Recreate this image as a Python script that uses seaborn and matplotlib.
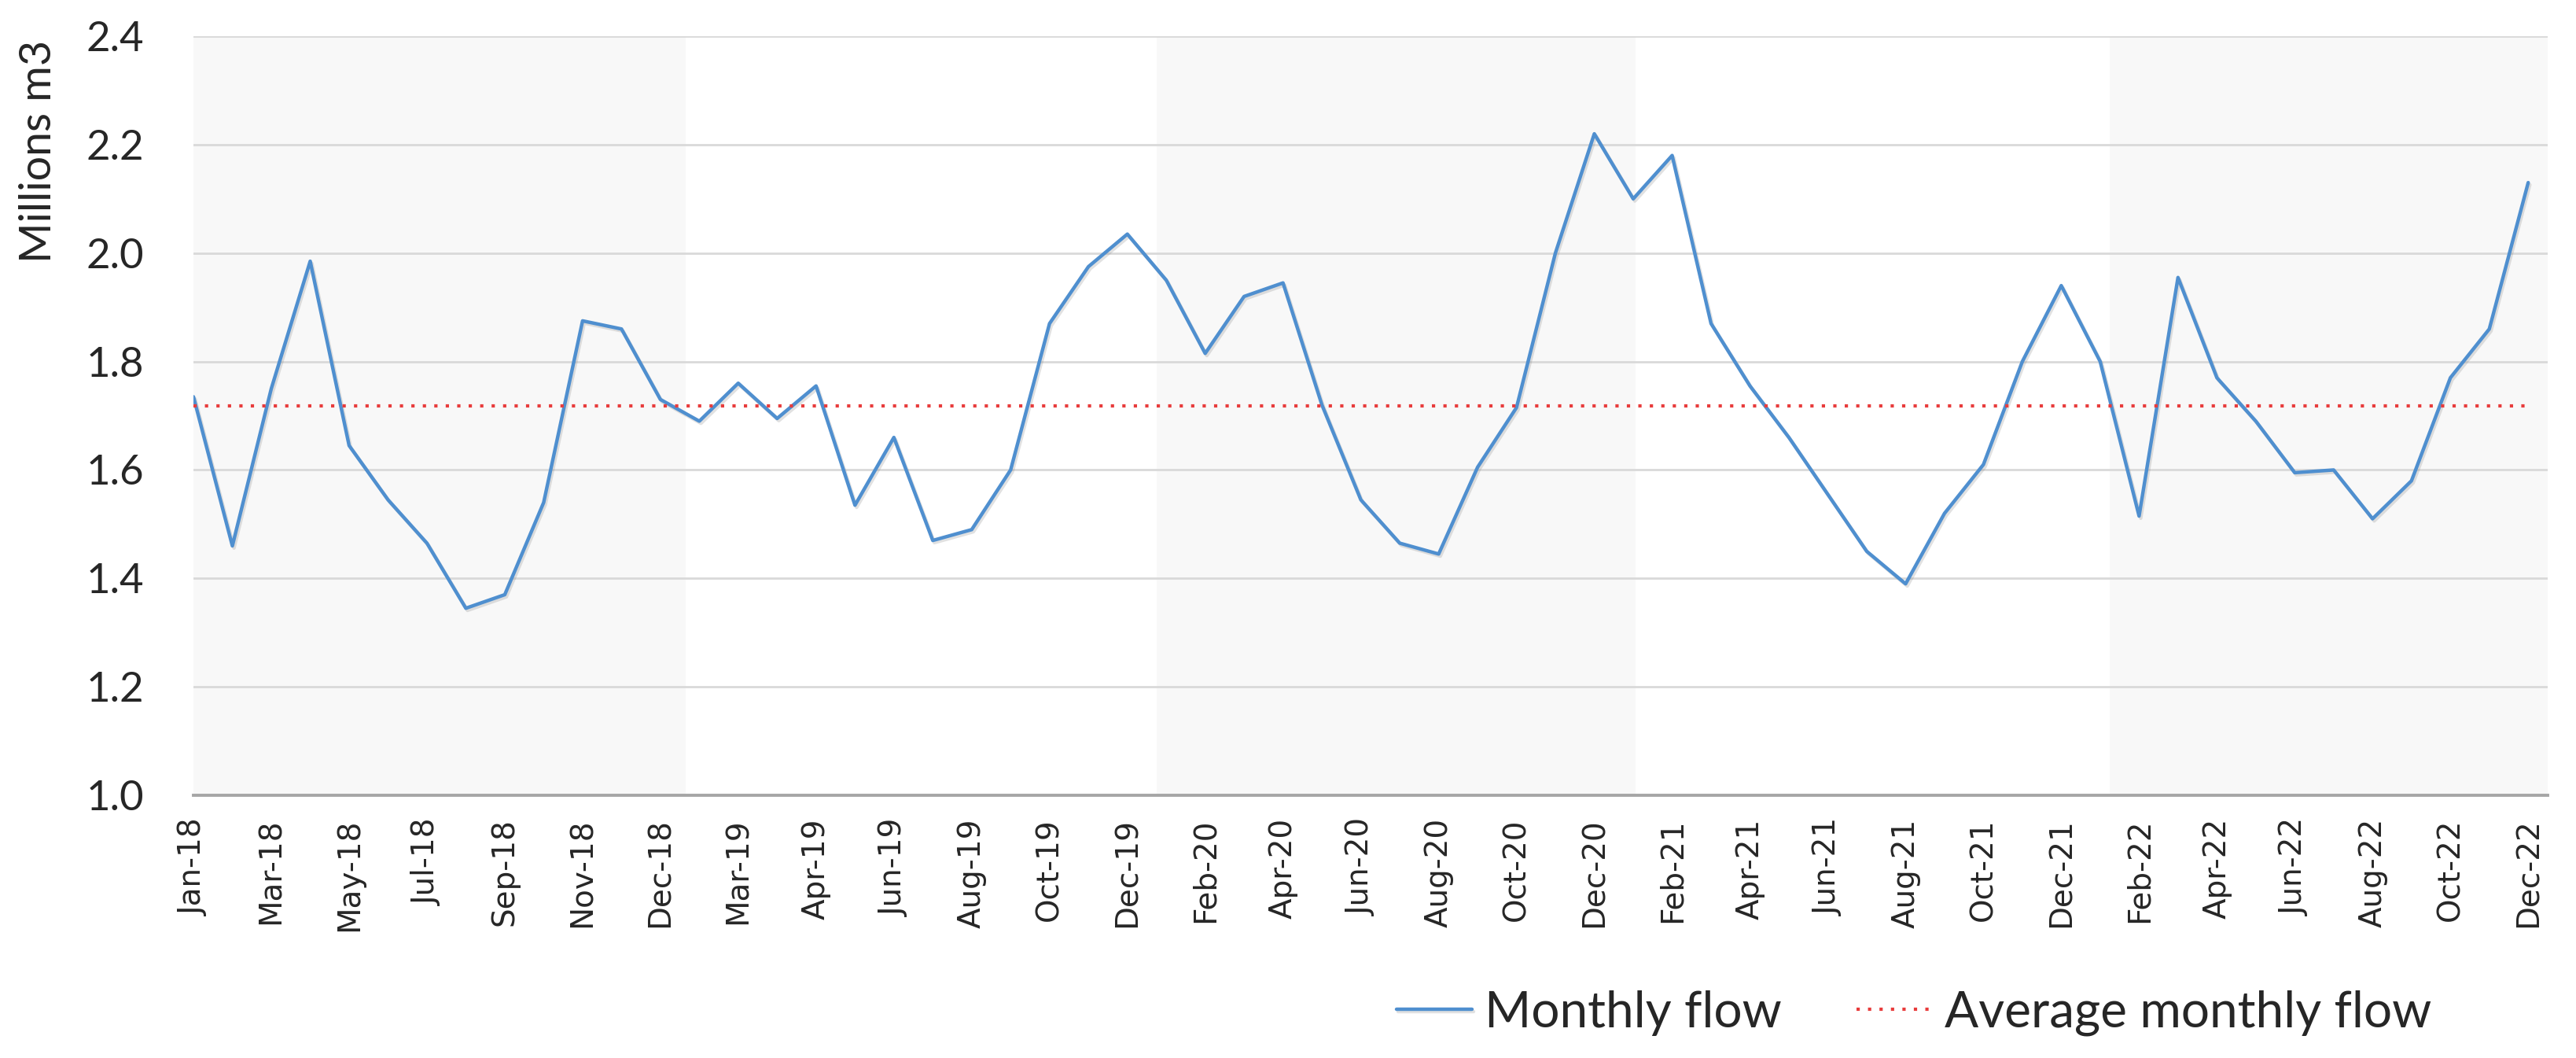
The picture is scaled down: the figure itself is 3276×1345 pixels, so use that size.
import pandas as pd
import seaborn as sns
import matplotlib.pyplot as plt
import matplotlib.patheffects as pe

# monthly flow (millions m3), one value per month shown on the axis
flow = [1.735, 1.46, 1.75, 1.985, 1.645, 1.545, 1.465, 1.345, 1.37, 1.54,
        1.875, 1.86, 1.73, 1.69, 1.76, 1.695, 1.755, 1.535, 1.66, 1.47,
        1.49, 1.60, 1.87, 1.975, 2.035, 1.95, 1.815, 1.92, 1.945, 1.72,
        1.545, 1.465, 1.445, 1.605, 1.715, 2.00, 2.22, 2.10, 2.18, 1.87,
        1.755, 1.66, 1.555, 1.45, 1.39, 1.52, 1.61, 1.80, 1.94, 1.80,
        1.515, 1.955, 1.77, 1.69, 1.595, 1.60, 1.51, 1.58, 1.77, 1.86,
        2.13]

# labels shown on every second category
tick_labels = ["Jan-18", "Mar-18", "May-18", "Jul-18", "Sep-18", "Nov-18", "Dec-18",
               "Mar-19", "Apr-19", "Jun-19", "Aug-19", "Oct-19", "Dec-19",
               "Feb-20", "Apr-20", "Jun-20", "Aug-20", "Oct-20", "Dec-20",
               "Feb-21", "Apr-21", "Jun-21", "Aug-21", "Oct-21", "Dec-21",
               "Feb-22", "Apr-22", "Jun-22", "Aug-22", "Oct-22", "Dec-22"]

y_ticks = [1.0, 1.2, 1.4, 1.6, 1.8, 2.0, 2.2, 2.4]

df = pd.DataFrame({"idx": range(len(flow)), "flow": flow})
df["avg"] = df["flow"].mean()

sns.set_style("white")
plt.rcParams["font.family"] = ["Lato", "DejaVu Sans"]

fig = plt.figure(figsize=(32.76, 13.45), dpi=100)
ax = fig.add_axes([0.0751, 0.2483, 0.9139, 0.7175])

# shaded years (2018, 2020, 2022)
for a, b in [(-0.5, 12.65), (24.75, 37.05), (49.25, 61)]:
    ax.axvspan(a, b, color="#f8f8f8", lw=0, zorder=0)

ax.set_axisbelow(True)
ax.yaxis.grid(True, color="#d9d9d9", lw=2)

sns.lineplot(data=df, x="idx", y="flow", ax=ax, color="#4f8fcf", lw=3.2,
             label="Monthly flow",
             path_effects=[pe.SimpleLineShadow(offset=(1.5, -2), shadow_color="#888888", alpha=0.25),
                           pe.Normal()])
sns.lineplot(data=df, x="idx", y="avg", ax=ax, color="#e83c3c", lw=3.0,
             linestyle=(0, (1, 2.5)), dash_capstyle="butt",
             label="Average monthly flow")

handles, labels = ax.get_legend_handles_labels()
ax.get_legend().remove()
fig.legend(handles, labels, loc="center", bbox_to_anchor=(0.743, 0.0424), ncol=2,
           frameon=False, fontsize=46, handlelength=1.5, handletextpad=0.25,
           columnspacing=1.5)

ax.set_xlim(0, 60.5)
ax.set_ylim(1.0, 2.4)
ax.set_xticks(range(0, len(flow), 2))
ax.set_xticklabels(tick_labels, rotation=90, fontsize=28, family="DejaVu Sans")
ax.set_yticks(y_ticks)
ax.set_yticklabels([f"{v:.1f}" for v in y_ticks], fontsize=38)
ax.tick_params(axis="x", length=0, pad=21)
ax.tick_params(axis="y", length=0, pad=45)
ax.set_xlabel("")
ax.set_ylabel("")

for s in ["left", "right", "top"]:
    ax.spines[s].set_visible(False)
ax.spines["bottom"].set_color("#a6a6a6")
ax.spines["bottom"].set_linewidth(2.8)

fig.text(0.015, 0.857, "Millions m3", rotation=90, ha="center", va="center", fontsize=40)

fig.savefig("out.png", dpi=100)
